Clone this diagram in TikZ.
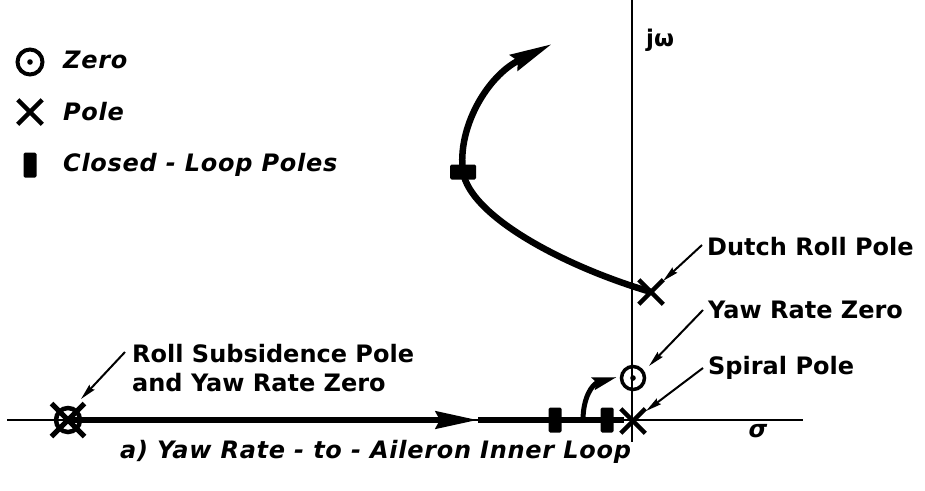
\documentclass[tikz,border=0pt]{standalone}
\usepackage{fontspec}
\setmainfont{DejaVu Sans}
\usetikzlibrary{arrows.meta,shapes.misc}
\begin{document}
\begin{tikzpicture}[x=1pt,y=-1pt,
  lbl/.style={font=\fontsize{24}{28}\selectfont\bfseries, inner sep=0, anchor=west},
  leglbl/.style={font=\fontsize{24}{28}\selectfont\bfseries\itshape\addfontfeature{LetterSpace=3}, inner sep=0, anchor=west},
  polex/.style={cross out, draw, line width=4.5pt, minimum size=20pt, inner sep=0},
  zeroc/.style={circle, draw, line width=3.5pt, minimum size=23pt, inner sep=0,
    path picture={\fill (path picture bounding box.center) circle (2.8pt);}},
  clpv/.style={rectangle, fill, minimum width=13pt, minimum height=25pt, inner sep=0, rounded corners=1.5pt},
  clph/.style={rectangle, fill, minimum width=26pt, minimum height=15pt, inner sep=0, rounded corners=1.5pt},
  locus/.style={line width=6.5pt},
  bigarrow/.style={-{Stealth[length=42pt,width=17pt,inset=4pt]}},
  leader/.style={line width=2pt, -{Stealth[length=16pt,width=7pt,inset=2pt]}}
]
\useasboundingbox (0,0) rectangle (925,490);

% axes
\coordinate (xl) at (7,420);
\coordinate (xr) at (803,420);
\coordinate (yt) at (632,0);
\coordinate (yb) at (632,442);
\draw[line width=1.3pt] (xl) -- (xr);
\draw[line width=1.3pt] (yt) -- (yb);
\node[inner sep=0, anchor=west, font=\fontsize{23}{26}\selectfont\bfseries] (jw) at (646,40) {jω};
\node[inner sep=0, font=\fontsize{24}{26}\selectfont\bfseries\itshape] (sig) at (758,431) {σ};

% real-axis locus
\coordinate (rs) at (68,420);
\coordinate (ra) at (478,420);
\coordinate (sp) at (632,420);
\draw[locus, bigarrow] (rs) -- (ra);
\draw[locus] (ra) -- (624,420);

% branch to yaw rate zero
\coordinate (br) at (583,420);
\coordinate (brt) at (617,377);
\draw[line width=5pt, -{Stealth[length=24pt,width=12pt,inset=3pt]}] (br) .. controls (583,398) and (592,384) .. (brt);

% upper locus
\coordinate (drp) at (651,292);
\coordinate (tip) at (463,172);
\coordinate (end) at (552,44);
\draw[locus, bigarrow] (drp) .. controls (560,265) and (470,215) .. (tip) .. controls (457,128) and (487,76) .. (end);

% symbols
\node[clpv] (c1) at (555,420) {};
\node[clpv] (c2) at (607,420) {};
\node[clph] (c3) at (463,172) {};
\node[polex] (dr) at (drp) {};
\node[polex] (spx) at (633,421) {};
\node[zeroc] (yz) at (633,378) {};
\node[circle, draw, line width=4.5pt, minimum size=24pt, inner sep=0] (rsz) at (rs) {};
\node[polex, minimum size=28pt, line width=5pt] (rsx) at (rs) {};

% labels
\node[lbl] (ldr) at (707,247) {Dutch Roll Pole};
\node[lbl] (lyz) at (708,310) {Yaw Rate Zero};
\node[lbl] (lsp) at (708,368) {Spiral Pole};
\node[lbl] (lrs1) at (132,354) {Roll Subsidence Pole};
\node[lbl] (lrs2) at (132,383) {and Yaw Rate Zero};

% leaders
\coordinate (a1) at (702,245);
\coordinate (a2) at (703,310);
\coordinate (a3) at (703,368);
\coordinate (a4) at (125,352);
\draw[leader] (a1) -- (663,281);
\draw[leader] (a2) -- (649,366);
\draw[leader] (a3) -- (646,411);
\draw[leader] (a4) -- (81,399);

% legend
\node[zeroc, minimum size=25pt, line width=4pt] (lz) at (30,62) {};
\node[polex] (lp) at (30,112) {};
\node[clpv] (lc) at (30,165) {};
\node[leglbl] (tz) at (63,60) {Zero};
\node[leglbl] (tp) at (63,112) {Pole};
\node[leglbl] (tc) at (63,165) {Closed - Loop Poles};

% caption
\node[leglbl] (cap) at (120,452) {a) Yaw Rate - to - Aileron Inner Loop};
\end{tikzpicture}
\end{document}
